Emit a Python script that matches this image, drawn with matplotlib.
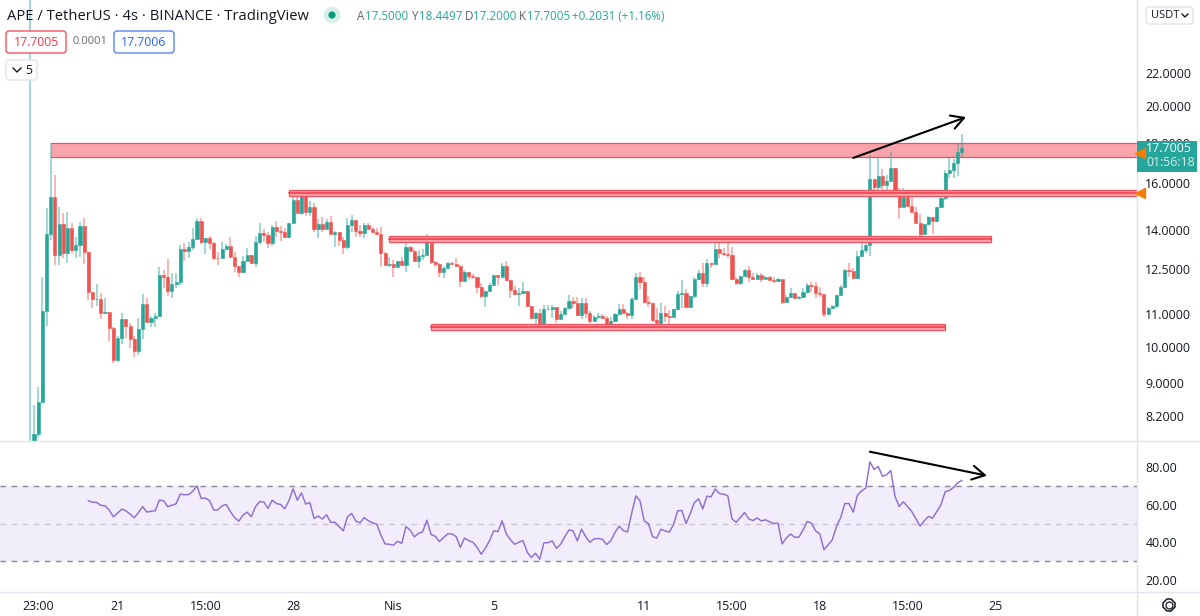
import numpy as np
import matplotlib
matplotlib.use('Agg')
import matplotlib.pyplot as plt
from matplotlib.patches import FancyBboxPatch, Rectangle, Circle

plt.rcParams['font.family'] = ['Open Sans', 'DejaVu Sans']

# 4h candles, index 0 is the listing candle
first_open = 7.20
closes = [7.50, 7.77, 8.52, 11.08, 13.84, 15.40, 13.02, 14.24, 13.10, 14.08, 13.21, 13.41, 14.16, 13.13, 11.70,
          11.46, 11.47, 11.01, 11.04, 10.55, 9.62, 10.25, 10.82, 10.60, 10.22, 9.87, 10.52, 11.30, 10.73, 10.85,
          10.92, 12.29, 12.22, 11.73, 11.97, 12.04, 13.25, 13.17, 13.33, 13.64, 14.37, 13.52, 13.68, 13.48, 12.91,
          12.89, 13.25, 13.37, 12.95, 12.62, 12.40, 12.80, 13.02, 12.72, 13.52, 13.88, 13.80, 13.48, 14.12, 13.96,
          13.92, 13.72, 14.28, 15.26, 14.70, 15.43, 14.74, 14.96, 14.04, 14.24, 14.04, 14.32, 13.84, 13.92, 13.60,
          13.33, 14.20, 14.41, 13.96, 13.88, 14.20, 14.04, 13.92, 13.84, 13.10, 12.65, 12.69, 12.58, 12.80, 12.65,
          13.33, 13.17, 12.80, 12.98, 13.02, 13.52, 12.76, 12.69, 12.40, 12.54, 12.72, 12.69, 12.62, 12.08, 12.40,
          12.25, 12.22, 11.87, 11.57, 11.73, 11.94, 12.29, 12.22, 12.62, 12.11, 11.77, 11.63, 11.66, 11.73, 11.24,
          10.85, 11.01, 10.64, 11.14, 11.15, 11.20, 10.82, 10.98, 11.17, 11.40, 11.33, 10.95, 11.33, 11.01, 10.76,
          10.89, 10.92, 10.85, 10.64, 10.76, 10.98, 11.14, 11.01, 10.95, 11.46, 12.22, 12.04, 11.37, 11.33, 10.79,
          10.70, 11.01, 10.92, 10.89, 11.14, 11.63, 11.66, 11.20, 11.57, 12.14, 12.36, 12.01, 12.72, 12.69, 13.25,
          13.10, 13.06, 13.02, 12.14, 12.01, 12.25, 12.47, 12.22, 12.14, 12.29, 12.14, 12.22, 12.11, 12.08, 12.14,
          11.37, 11.53, 11.66, 11.50, 11.53, 11.70, 11.94, 11.90, 11.66, 11.63, 10.98, 11.17, 11.24, 11.60, 11.87,
          12.47, 12.43, 12.18, 12.98, 13.21, 13.41, 16.21, 15.85, 16.35, 15.94, 16.12, 16.73, 15.53, 14.96, 15.40,
          15.00, 14.74, 14.28, 13.84, 14.24, 14.53, 14.37, 14.96, 15.34, 16.49, 16.64, 16.97, 17.50, 17.7005]
highs = [40.00, 8.45, 8.90, 12.22, 14.91, 17.97, 16.40, 14.96, 14.70, 14.74, 14.28, 13.72, 14.32, 14.49, 13.13,
         11.70, 11.97, 11.66, 11.49, 11.04, 10.58, 10.31, 11.01, 10.82, 10.70, 10.31, 10.85, 11.63, 11.50, 10.92,
         11.01, 12.58, 12.47, 12.87, 12.36, 12.36, 13.41, 13.48, 13.52, 14.08, 14.49, 14.49, 13.68, 13.76, 13.52,
         13.13, 13.52, 13.45, 13.72, 13.13, 12.62, 12.98, 13.29, 13.02, 13.76, 14.28, 14.04, 13.92, 14.20, 14.37,
         14.16, 14.08, 14.28, 15.54, 15.43, 15.57, 15.49, 15.22, 15.13, 14.45, 14.53, 14.45, 14.58, 13.96, 13.92,
         13.72, 14.49, 14.62, 14.41, 14.20, 14.28, 14.28, 14.12, 14.08, 14.12, 13.13, 12.95, 12.84, 12.80, 12.95,
         13.60, 13.37, 13.25, 13.21, 13.25, 13.84, 13.72, 12.80, 12.72, 12.62, 12.76, 12.76, 12.91, 12.65, 12.47,
         12.40, 12.33, 12.22, 12.01, 11.73, 12.01, 12.29, 12.29, 12.72, 12.80, 12.11, 11.90, 11.83, 12.04, 11.73,
         11.24, 11.04, 11.14, 11.27, 11.27, 11.27, 11.20, 11.08, 11.20, 11.60, 11.53, 11.53, 11.50, 11.50, 11.08,
         10.95, 11.01, 10.98, 10.92, 10.89, 11.01, 11.30, 11.30, 11.04, 11.53, 12.36, 12.40, 12.22, 11.57, 11.33,
         11.17, 11.33, 11.24, 11.11, 11.14, 11.73, 12.11, 11.80, 11.57, 12.22, 12.47, 12.72, 12.87, 12.72, 13.48,
         13.48, 13.29, 13.56, 13.33, 12.22, 12.25, 12.51, 12.62, 12.36, 12.36, 12.36, 12.25, 12.25, 12.22, 12.18,
         12.11, 11.60, 11.83, 11.66, 11.57, 11.83, 12.01, 12.04, 12.04, 11.87, 11.63, 11.20, 11.27, 11.60, 11.94,
         12.51, 12.72, 12.54, 13.17, 13.52, 13.48, 17.37, 16.21, 17.28, 16.68, 16.40, 17.50, 16.73, 15.80, 15.80,
         15.71, 15.40, 14.96, 14.66, 14.24, 14.58, 14.53, 14.96, 15.43, 16.64, 17.23, 17.18, 17.97, 18.4497]
lows = [5.00, 7.55, 7.71, 8.52, 10.61, 13.60, 12.65, 12.65, 12.91, 12.72, 13.10, 12.91, 12.95, 12.69, 11.43,
        11.17, 11.24, 10.82, 10.98, 10.16, 9.53, 9.56, 10.07, 10.25, 9.96, 9.70, 9.76, 10.22, 10.73, 10.58,
        10.58, 10.92, 11.83, 11.57, 11.50, 11.83, 11.94, 12.80, 12.91, 13.21, 13.60, 13.45, 13.06, 13.25, 12.84,
        12.65, 12.89, 13.25, 12.91, 12.40, 12.22, 12.36, 12.80, 12.69, 12.58, 13.45, 13.52, 13.29, 13.37, 13.72,
        13.56, 13.72, 13.68, 14.24, 14.70, 14.62, 14.58, 14.58, 13.92, 13.68, 13.92, 14.04, 13.84, 13.33, 13.37,
        13.06, 13.25, 13.92, 13.72, 13.72, 13.68, 14.04, 13.88, 13.80, 12.58, 12.65, 12.58, 12.22, 12.58, 12.65,
        12.40, 13.17, 12.80, 12.54, 12.84, 13.02, 12.69, 12.58, 12.22, 12.18, 12.54, 12.69, 12.58, 11.87, 12.08,
        12.14, 12.14, 11.67, 11.50, 11.20, 11.73, 11.90, 11.94, 12.22, 12.08, 11.50, 11.60, 11.24, 11.63, 11.20,
        10.82, 10.55, 10.64, 10.64, 11.11, 10.85, 10.70, 10.82, 10.95, 11.14, 11.17, 10.92, 10.82, 10.85, 10.70,
        10.73, 10.82, 10.82, 10.58, 10.61, 10.76, 10.95, 11.01, 10.82, 10.82, 11.43, 11.80, 11.33, 11.20, 10.73,
        10.70, 10.70, 10.73, 10.64, 10.89, 11.11, 11.17, 11.17, 11.17, 11.50, 12.11, 11.87, 11.87, 12.54, 12.69,
        12.91, 12.98, 12.91, 12.11, 11.94, 11.94, 12.25, 12.04, 12.11, 12.11, 12.04, 12.14, 12.11, 12.01, 12.04,
        11.30, 11.33, 11.50, 11.46, 11.46, 11.50, 11.66, 11.70, 11.50, 11.53, 10.89, 10.98, 11.17, 11.17, 11.57,
        11.83, 12.22, 12.14, 12.14, 12.95, 13.10, 12.98, 15.66, 15.71, 15.66, 15.71, 16.12, 15.40, 14.45, 14.96,
        15.00, 14.74, 14.28, 13.76, 13.84, 14.20, 13.84, 14.32, 14.91, 15.26, 16.26, 16.26, 16.35, 17.20]
opens = [first_open] + closes[:-1]

# RSI 14, starts at candle 14
rsi = [62.2, 61.4, 61.3, 59.7, 59.5, 57.2, 53.6, 55.6, 57.7, 56.8, 55.0, 53.1, 55.9, 59.0, 56.1, 56.6, 56.8, 62.5,
       62.2, 59.0, 59.8, 60.6, 65.7, 65.4, 65.5, 67.3, 70.2, 63.4, 63.6, 62.2, 57.2, 57.3, 59.5, 60.2, 56.3, 53.2,
       51.3, 54.5, 56.1, 53.6, 59.0, 61.8, 61.5, 58.1, 62.5, 60.7, 60.2, 57.9, 62.2, 68.6, 62.5, 66.4, 60.4, 61.3,
       52.7, 54.0, 52.4, 54.7, 50.6, 50.7, 48.3, 46.1, 53.6, 55.4, 51.3, 50.4, 53.2, 51.5, 50.4, 49.7, 43.8, 39.1,
       38.9, 38.4, 40.5, 39.4, 48.4, 46.5, 42.9, 44.7, 45.6, 51.8, 44.2, 43.2, 40.4, 42.5, 44.5, 44.5, 43.0, 37.3,
       42.2, 40.9, 40.0, 37.3, 33.6, 36.8, 40.9, 46.1, 45.7, 51.4, 44.5, 41.3, 38.9, 40.0, 40.9, 34.7, 31.8, 34.1,
       30.9, 39.7, 39.8, 40.7, 36.8, 38.9, 43.0, 46.6, 46.1, 40.7, 47.0, 43.0, 40.0, 41.8, 42.0, 41.6, 38.8, 40.8,
       45.2, 48.6, 46.3, 45.5, 55.5, 64.8, 62.1, 51.4, 50.0, 43.0, 42.2, 47.0, 46.1, 45.4, 49.3, 56.8, 57.0, 50.0,
       55.2, 61.2, 63.2, 57.8, 64.6, 64.3, 68.5, 66.0, 65.7, 64.8, 52.5, 50.7, 53.2, 55.9, 52.5, 51.6, 53.0, 51.4,
       52.0, 50.9, 50.0, 50.2, 39.1, 42.3, 44.4, 42.7, 42.7, 46.6, 51.1, 50.2, 46.1, 44.5, 36.0, 38.6, 41.3, 48.4,
       53.2, 60.7, 60.7, 56.1, 65.0, 67.5, 68.9, 83.0, 78.9, 80.5, 75.3, 76.0, 78.4, 64.5, 59.1, 61.6, 59.1, 56.5,
       52.5, 48.6, 51.5, 53.8, 52.9, 56.5, 60.0, 67.0, 67.7, 69.3, 71.8, 73.0]

price_ticks = [22, 20, 18, 16, 14, 12.5, 11, 10, 9, 8.2]
rsi_ticks = [80, 60, 40, 20]
date_ticks = [2, 21, 42, 63, 87, 111, 147, 168, 189, 210, 231]
date_labels = ['23:00', '21', '15:00', '28', 'Nis', '5', '11', '15:00', '18', '15:00', '25']

# drawn zones: start candle, end candle, top price, bottom price
zone = [5, 266, 17.97, 17.26]
bands = [[62, 266, 15.71, 15.44],
         [86, 230, 13.76, 13.52],
         [96, 219, 10.67, 10.49]]

GREEN = '#26a69a'
RED = '#ef5350'
TEXT = '#131722'
LINE = '#e0e3eb'

fig = plt.figure(figsize=(12, 6.16), dpi=100, facecolor='white')
ax = fig.add_axes([0, 175 / 616, 1137 / 1200, 441 / 616])
ax2 = fig.add_axes([0, 24 / 616, 1137 / 1200, 150 / 616])

# price panel
x = np.arange(len(closes))
o = np.array(opens)
c = np.array(closes)
colors = np.where(c >= o, GREEN, RED)
ax.vlines(x, lows, highs, colors=colors, linewidth=1.1, alpha=0.55, zorder=2)
body_low = np.minimum(o, c)
body_high = np.maximum(o, c)
ax.bar(x, body_high - body_low, bottom=body_low, width=0.74, color=colors, edgecolor=colors,
       linewidth=0.4, zorder=3)

ax.set_yscale('log')
ax.set_xlim(-7.13, 264.9)
ax.set_ylim(7.62, 27.14)
ax.set_yticks(price_ticks)
ax.set_yticklabels(['%.4f' % t for t in price_ticks])
ax.minorticks_off()
ax.yaxis.tick_right()
ax.tick_params(axis='y', length=0, pad=6, labelsize=8.9, labelcolor=TEXT)
ax.set_xticks([])
for s in ax.spines.values():
    s.set_visible(False)

# the big pink zone sits behind the candles
ax.add_patch(Rectangle((zone[0], zone[3]), zone[1] - zone[0], zone[2] - zone[3], facecolor='#f23645',
                       alpha=0.45, edgecolor='none', zorder=1))
ax.plot([zone[0], zone[1]], [zone[2], zone[2]], color='#f0505e', lw=0.9, zorder=1.5)
ax.plot([zone[0], zone[1]], [zone[3], zone[3]], color='#f0505e', lw=0.9, zorder=1.5)

# thin support / resistance bands
for b in bands:
    ax.add_patch(Rectangle((b[0], b[3]), b[1] - b[0], b[2] - b[3], facecolor='#f9a5ac', edgecolor='#f4505e',
                           linewidth=0.9, zorder=4))
    mid = np.sqrt(b[2] * b[3])
    ax.plot([b[0], b[1]], [mid, mid], color='#f23645', lw=1.1, zorder=5)

ax.annotate('', xy=(224, 19.37), xytext=(197, 17.22),
            arrowprops=dict(arrowstyle='->,head_length=0.9,head_width=0.5', color='black', lw=1.5,
                            shrinkA=0, shrinkB=0), zorder=6)

# rsi panel
ax2.axhspan(30, 70, color='#f1edfa', lw=0, zorder=1)
ax2.axhline(70, color='#8a8794', lw=1, dashes=(4, 4), zorder=2)
ax2.axhline(50, color='#c9c5d3', lw=1, dashes=(4, 4), zorder=2)
ax2.axhline(30, color='#8a8794', lw=1, dashes=(4, 4), zorder=2)
ax2.plot(np.arange(len(closes) - len(rsi), len(closes)), rsi, color='#8e6fd0', lw=1.05, zorder=3)
ax2.annotate('', xy=(229, 75.6), xytext=(201, 88.4),
             arrowprops=dict(arrowstyle='->,head_length=0.9,head_width=0.5', color='black', lw=1.5,
                             shrinkA=0, shrinkB=0), zorder=6)
ax2.set_xlim(-7.13, 264.9)
ax2.set_ylim(13.4, 93.6)
ax2.set_yticks(rsi_ticks)
ax2.set_yticklabels(['%.2f' % t for t in rsi_ticks])
ax2.yaxis.tick_right()
ax2.tick_params(axis='y', length=0, pad=6, labelsize=8.9, labelcolor=TEXT)
ax2.set_xticks(date_ticks)
ax2.set_xticklabels(date_labels)
ax2.tick_params(axis='x', length=0, pad=6, labelsize=8.9, labelcolor=TEXT)
for s in ax2.spines.values():
    s.set_visible(False)

# header, price tag and other screen furniture, in screen pixels
ui = fig.add_axes([0, 0, 1, 1], facecolor='none')
ui.set_xlim(0, 1200)
ui.set_ylim(616, 0)
ui.axis('off')

ui.plot([0, 1200], [441, 441], color=LINE, lw=1)
ui.plot([0, 1200], [592, 592], color=LINE, lw=1)
ui.plot([1137, 1137], [0, 616], color=LINE, lw=1)

ui.text(7, 16, 'APE / TetherUS · 4s · BINANCE · TradingView', fontsize=10.65, color=TEXT, va='center')
ui.add_patch(Circle((332, 15), 8.5, color='#d9f0ea', lw=0))
ui.add_patch(Circle((332, 15), 3.6, color='#089981', lw=0))

for lx, letter, val in [(357, 'A', '17.5000'), (411, 'Y', '18.4497'),
                        (465, 'D', '17.2000'), (519, 'K', '17.7005')]:
    ui.text(lx, 16, letter, fontsize=8.4, color='#5d606b', va='center')
    ui.text(lx + 8, 16, val, fontsize=8.4, color=GREEN, va='center')
ui.text(572, 16, '+0.2031 (+1.16%)', fontsize=8.4, color=GREEN, va='center')


def label_box(x0, y0, w, h, edge):
    ui.add_patch(FancyBboxPatch((x0 + 2, y0 + 2), w - 4, h - 4, boxstyle='round,pad=2,rounding_size=3',
                                facecolor='white', edgecolor=edge, lw=1, zorder=8))


label_box(6, 31, 60, 22, '#f7525f')
ui.text(36, 42, '17.7005', fontsize=8.8, color='#f23645', ha='center', va='center', zorder=9)
ui.text(90, 42, '0.0001', fontsize=8, color='#6a6d78', ha='center', va='center', zorder=9)
label_box(114, 31, 60, 22, '#5b83f7')
ui.text(144, 42, '17.7006', fontsize=8.8, color='#2962ff', ha='center', va='center', zorder=9)
label_box(6, 60, 31, 20, LINE)
ui.plot([13, 17, 21], [68, 72, 68], color=TEXT, lw=1, zorder=9)
ui.text(29, 70, '5', fontsize=8.8, color=TEXT, ha='center', va='center', zorder=9)

# last price tag
ui.add_patch(Rectangle((1137, 141), 60, 31, facecolor=GREEN, edgecolor='none', zorder=8))
ui.text(1146, 149, '17.7005', fontsize=9, color='white', va='center', zorder=9)
ui.text(1146, 163, '01:56:18', fontsize=8.8, color='#d3eeeb', va='center', zorder=9)
ui.plot([1140, 1140], [152.5, 193], ls='none', marker='<', ms=6.5, color='#f57c00', zorder=10)

# currency button and gear
label_box(1146, 7, 47, 17, LINE)
ui.text(1151, 15.5, 'USDT', fontsize=8, color=TEXT, va='center', zorder=9)
ui.plot([1182, 1185, 1188], [14, 17, 14], color=TEXT, lw=1, zorder=9)
ui.plot([1169], [605], marker='8', ms=9, mfc='white', mec=TEXT, mew=1.1, zorder=9)
ui.plot([1169], [605], marker='o', ms=5, mfc='white', mec=TEXT, mew=0.9, zorder=10)

fig.savefig('out.png', dpi=100)
